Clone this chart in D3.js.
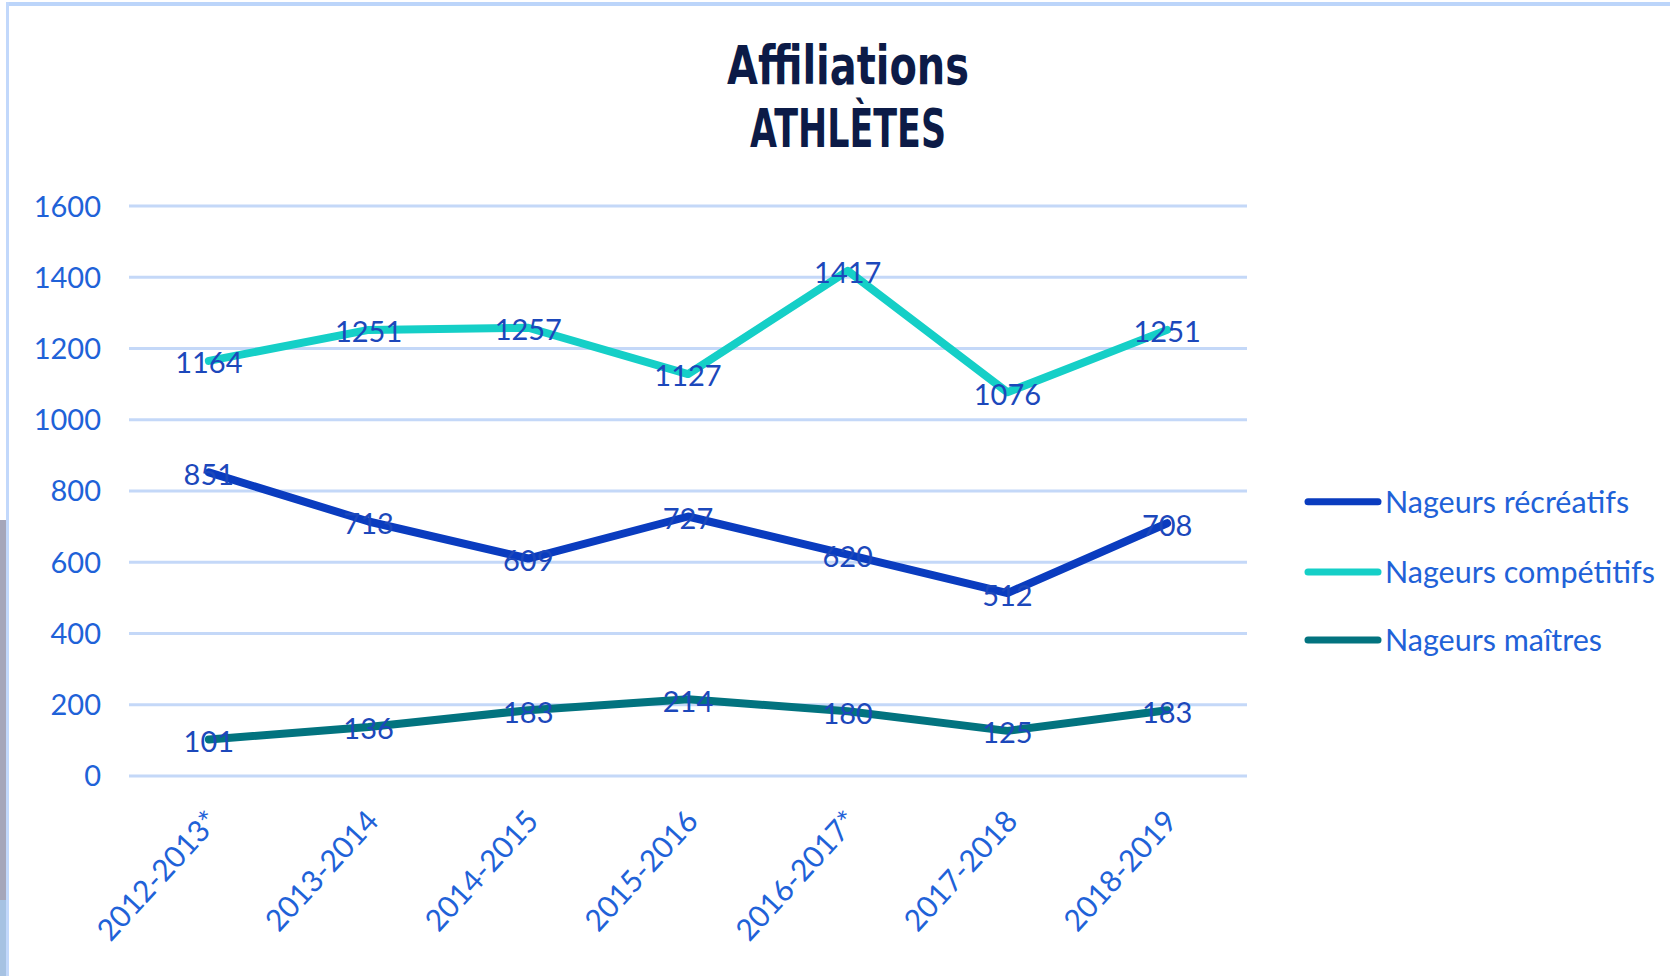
<!DOCTYPE html>
<html>
<head>
<meta charset="utf-8">
<script src="https://cdn.jsdelivr.net/npm/d3@7"></script>
<style>
  html, body { margin: 0; padding: 0; background: #ffffff; }
  svg { display: block; }
</style>
</head>
<body>
<svg id="chart" width="1670" height="976"></svg>
<script>
// ---- data ----
const categories = ["2012-2013*", "2013-2014", "2014-2015", "2015-2016", "2016-2017*", "2017-2018", "2018-2019"];
const recreatifs  = [851, 713, 609, 727, 620, 512, 708];
const competitifs = [1164, 1251, 1257, 1127, 1417, 1076, 1251];
const maitres     = [101, 136, 183, 214, 180, 125, 183];
const seriesNames = ["Nageurs récréatifs", "Nageurs compétitifs", "Nageurs maîtres"];
const yTicks = [0, 200, 400, 600, 800, 1000, 1200, 1400, 1600];
const titleLines = ["Affiliations", "ATHLÈTES"];

// ---- styles ----
const seriesColors = ["#0a3cbf", "#15cfc7", "#02737f"];
const labelColor = "#1c48bb";
const axisColor = "#1f62d8";
const gridColor = "#c4d8f8";
const font = "Lato, 'Open Sans', sans-serif";

const svg = d3.select("#chart");

// frame decorations
svg.append("rect").attr("x", 0).attr("y", 0).attr("width", 1670).attr("height", 976).attr("fill", "#ffffff");
svg.append("rect").attr("x", 0).attr("y", 520).attr("width", 6).attr("height", 380).attr("fill", "#a5a6ba");
svg.append("rect").attr("x", 0).attr("y", 900).attr("width", 6).attr("height", 76).attr("fill", "#a6c2e2");
svg.append("rect").attr("x", 6).attr("y", 2).attr("width", 1664).attr("height", 4).attr("fill", "#bcd5fa");
svg.append("rect").attr("x", 6).attr("y", 2).attr("width", 3).attr("height", 974).attr("fill", "#c2d8fb");

// scales
const plotLeft = 129, plotRight = 1247, plotTop = 205.6, plotBottom = 775.4;
const x = d3.scaleBand().domain(categories).range([plotLeft, plotRight]).padding(0);
const cx = d => x(d) + x.bandwidth() / 2;
const y = d3.scaleLinear().domain([0, 1600]).range([plotBottom, plotTop]);

// y axis with gridlines
const yAxis = d3.axisLeft(y).tickValues(yTicks).tickFormat(d3.format("d"))
  .tickSizeInner(-(plotRight - plotLeft)).tickSizeOuter(0).tickPadding(28);
const gy = svg.append("g").attr("transform", `translate(${plotLeft},0)`).call(yAxis);
gy.select(".domain").remove();
gy.selectAll(".tick line").attr("stroke", gridColor).attr("stroke-width", 3);
gy.selectAll(".tick text")
  .attr("fill", axisColor)
  .attr("font-family", font)
  .attr("font-size", 29)
  .attr("dy", "0.36em");

// x axis, rotated labels
const xAxis = d3.axisBottom(x).tickSize(0).tickPadding(0);
const gx = svg.append("g").attr("transform", `translate(0,${plotBottom})`).call(xAxis);
gx.select(".domain").remove();
gx.selectAll(".tick text")
  .attr("fill", axisColor)
  .attr("font-family", font)
  .attr("font-size", 30)
  .attr("text-anchor", "end")
  .attr("x", 0).attr("y", 0).attr("dy", "0.35em")
  .attr("transform", "translate(4,40) rotate(-47.5)");

// lines
const series = [recreatifs, competitifs, maitres];
const line = d3.line().x((d, i) => cx(categories[i])).y(d => y(d));
series.forEach((vals, si) => {
  svg.append("path")
    .datum(vals)
    .attr("d", line)
    .attr("fill", "none")
    .attr("stroke", seriesColors[si])
    .attr("stroke-width", 8)
    .attr("stroke-linejoin", "round")
    .attr("stroke-linecap", "round");
});

// data labels
series.forEach((vals, si) => {
  svg.append("g").selectAll("text")
    .data(vals)
    .join("text")
    .attr("x", (d, i) => cx(categories[i]))
    .attr("y", d => y(d) + 2)
    .attr("dy", "0.36em")
    .attr("text-anchor", "middle")
    .attr("fill", labelColor)
    .attr("font-family", font)
    .attr("font-size", 29)
    .text(d => d);
});

// legend
const legendX = 1305, legendRows = [501.7, 572, 640];
seriesNames.forEach((name, i) => {
  const g = svg.append("g").attr("transform", `translate(${legendX},${legendRows[i]})`);
  g.append("line").attr("x1", 3).attr("x2", 73).attr("y1", 0).attr("y2", 0)
    .attr("stroke", seriesColors[i]).attr("stroke-width", 7).attr("stroke-linecap", "round");
  g.append("text").attr("x", 80).attr("y", 0).attr("dy", "0.36em")
    .attr("fill", axisColor).attr("font-family", font).attr("font-size", 30.5)
    .text(name);
});

// title (condensed heavy look)
const titleWidths = [242, 196];
const titleBaselines = [84, 147];
titleLines.forEach((t, i) => {
  svg.append("text")
    .attr("x", 848).attr("y", titleBaselines[i])
    .attr("text-anchor", "middle")
    .attr("fill", "#0c1b47")
    .attr("font-family", "'DejaVu Sans', sans-serif")
    .attr("font-weight", "bold")
    .attr("font-size", 54)
    .attr("textLength", titleWidths[i])
    .attr("lengthAdjust", "spacingAndGlyphs")
    .text(t);
});
</script>
</body>
</html>
